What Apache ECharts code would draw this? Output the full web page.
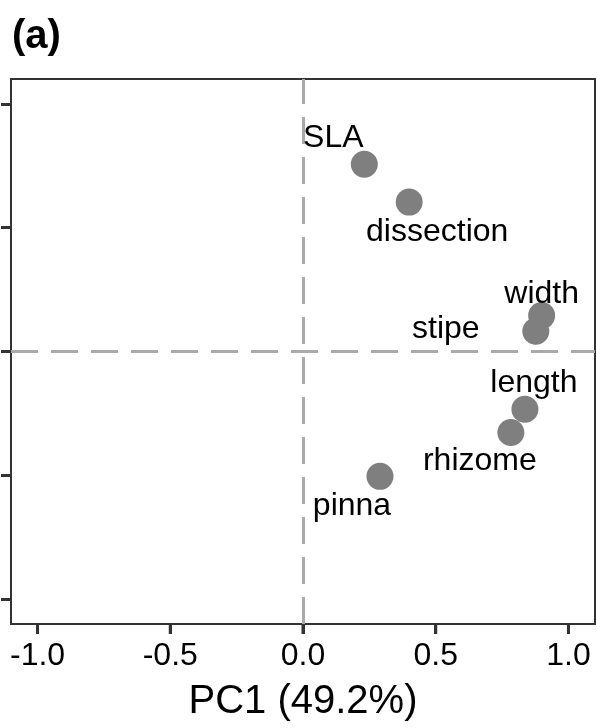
<!DOCTYPE html>
<html>
<head>
<meta charset="utf-8">
<script src="https://cdn.jsdelivr.net/npm/echarts@6/dist/echarts.min.js"></script>
<style>html,body{margin:0;padding:0;background:#fff;}#c{width:597px;height:728px;}</style>
</head>
<body>
<div id="c"></div>
<script>
// Data
var traits = ['SLA', 'dissection', 'width', 'stipe', 'length', 'rhizome', 'pinna'];
var pc1 = [0.231, 0.400, 0.899, 0.877, 0.836, 0.783, 0.290];
var pc2 = [0.756, 0.603, 0.145, 0.082, -0.233, -0.327, -0.504];
var xTicks = [-1.0, -0.5, 0.0, 0.5, 1.0];
var yTicks = [-1.0, -0.5, 0.0, 0.5, 1.0];
var xAxisTitle = 'PC1 (49.2%)';
var panelTag = '(a)';

// Layout (label offsets in px, repel-like placement)
var labelOffsets = [[-31, -26], [28, 30], [0, -21], [-90, -2], [9, -26], [-31, 29], [-28, 30]];

var chart = echarts.init(document.getElementById('c'), null, {renderer: 'canvas'});
var pts = traits.map(function (t, i) {
  return {
    value: [pc1[i], pc2[i]],
    name: t,
    label: {offset: labelOffsets[i]}
  };
});
var font = 'Liberation Sans, Arial, Helvetica, sans-serif';
var AX_MIN = -1.1, AX_MAX = 1.1;
chart.setOption({
  animation: false,
  backgroundColor: '#ffffff',
  graphic: [{
    id: 'tag', type: 'text', left: 12, top: 17,
    style: {text: panelTag, font: 'bold 40px ' + font, fill: '#000'}
  }],
  grid: {left: 11, right: 2, top: 79, bottom: 104, show: true, borderColor: '#333333', borderWidth: 2},
  xAxis: {
    type: 'value', min: AX_MIN, max: AX_MAX,
    splitLine: {show: false},
    axisLine: {show: true, onZero: false, lineStyle: {color: '#333', width: 2}},
    axisTick: {show: true, customValues: xTicks, length: 10, lineStyle: {color: '#333', width: 3}},
    axisLabel: {show: true, customValues: xTicks, color: '#000', fontSize: 32, fontFamily: font, margin: 16,
      formatter: function (v) { return v.toFixed(1); }},
    name: xAxisTitle, nameLocation: 'middle', nameGap: 58,
    nameTextStyle: {color: '#000', fontSize: 40, fontFamily: font}
  },
  yAxis: {
    type: 'value', min: AX_MIN, max: AX_MAX,
    splitLine: {show: false},
    axisLine: {show: true, onZero: false, lineStyle: {color: '#333', width: 2}},
    axisTick: {show: true, customValues: yTicks, length: 10, lineStyle: {color: '#333', width: 3}},
    axisLabel: {show: false, customValues: yTicks}
  },
  series: [{
    type: 'scatter',
    data: pts,
    symbolSize: 27,
    itemStyle: {color: '#7f7f7f', opacity: 1},
    z: 5,
    label: {
      show: true, position: 'inside',
      formatter: function (p) { return p.name; },
      color: '#000', fontSize: 32, fontFamily: font
    },
    markLine: {
      silent: true, symbol: 'none', animation: false,
      label: {show: false},
      lineStyle: {color: '#aaaaaa', width: 3, type: [27, 13]},
      data: [{xAxis: 0}, {yAxis: 0}],
      z: 1
    }
  }]
});

// Ensure the bottom x-axis tick marks are visible: place them through the axis scale.
var yBottom = chart.convertToPixel({yAxisIndex: 0}, AX_MIN);
var tickGraphics = xTicks.map(function (v, i) {
  var px = chart.convertToPixel({xAxisIndex: 0}, v);
  return {
    id: 'xtick' + i, type: 'line', z: 10,
    shape: {x1: px, y1: yBottom, x2: px, y2: yBottom + 10},
    style: {stroke: '#333', lineWidth: 3}
  };
});
chart.setOption({graphic: tickGraphics});
</script>
</body>
</html>
